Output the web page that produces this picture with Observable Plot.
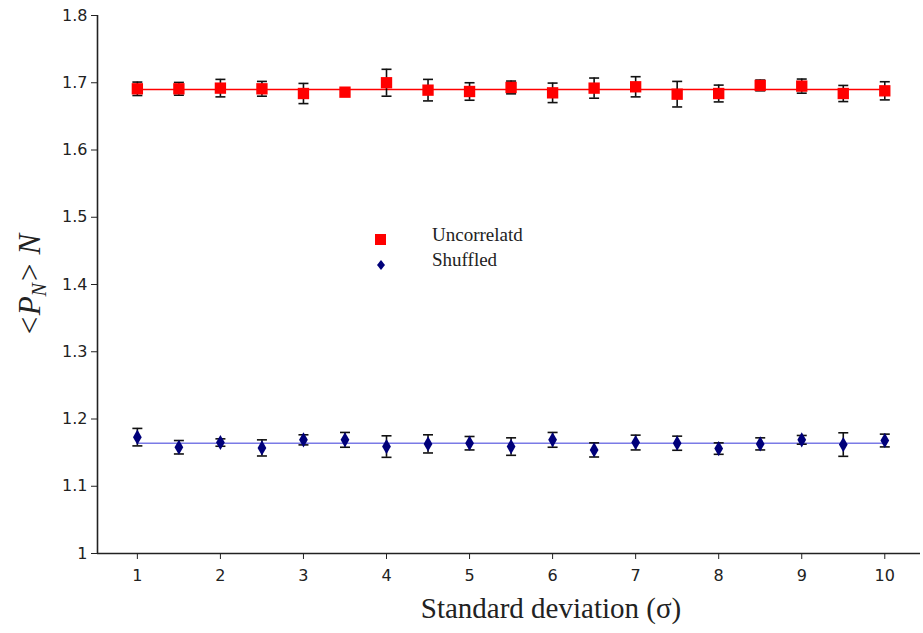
<!DOCTYPE html>
<html><head><meta charset="utf-8">
<script src="https://cdn.jsdelivr.net/npm/d3@7"></script>
<script src="https://cdn.jsdelivr.net/npm/@observablehq/plot@0.6"></script>
<style>
body{margin:0;background:#fff}
#wrap{position:relative;width:923px;height:633px;overflow:hidden}
#ylab{position:absolute;left:31px;top:285px;transform:translate(-50%,-50%) rotate(-90deg);font-family:"Liberation Serif","DejaVu Serif",serif;font-style:italic;font-size:31px;color:#222;white-space:nowrap}
#ylab sub{font-size:20px;vertical-align:-6px}
.leg{position:absolute;font-family:"Liberation Serif",serif;font-size:19px;color:#222;white-space:nowrap}
</style>
</head><body><div id="wrap"></div>
<script>
const sigma      = [1,1.5,2,2.5,3,3.5,4,4.5,5,5.5,6,6.5,7,7.5,8,8.5,9,9.5,10];
const uncorrMean = [1.691,1.691,1.692,1.691,1.684,1.686,1.700,1.689,1.687,1.693,1.685,1.692,1.694,1.683,1.684,1.696,1.695,1.684,1.688];
const uncorrErr  = [0.010,0.0095,0.013,0.011,0.015,0.002,0.020,0.016,0.013,0.0095,0.0145,0.015,0.015,0.019,0.0125,0.008,0.0105,0.012,0.0135];
const shufMean   = [1.173,1.158,1.165,1.157,1.169,1.169,1.159,1.163,1.164,1.159,1.169,1.154,1.165,1.164,1.156,1.163,1.169,1.162,1.168];
const shufErr    = [0.013,0.010,0.0055,0.012,0.0075,0.011,0.016,0.0135,0.010,0.013,0.011,0.0105,0.011,0.0105,0.0085,0.009,0.0065,0.0175,0.0095];
const uncorrFit  = [1.690];
const shufFit    = [1.164];
const xTicks     = [1,2,3,4,5,6,7,8,9,10];
const yTicks     = [1,1.1,1.2,1.3,1.4,1.5,1.6,1.7,1.8];
const xDomain    = [0.52, 10.43];
const yDomain    = [1, 1.8];
const seriesNames = ["Uncorrelatd", "Shuffled"];
const xLabel     = "Standard deviation (σ)";

const red = "#ff0000", navy = "#00007a";
const uRows = sigma.map((s,i)=>({s, m: uncorrMean[i], lo: uncorrMean[i]-uncorrErr[i], hi: uncorrMean[i]+uncorrErr[i]}));
const sRows = sigma.map((s,i)=>({s, m: shufMean[i], lo: shufMean[i]-shufErr[i], hi: shufMean[i]+shufErr[i]}));

const cap = {draw(ctx, size){ const w = Math.sqrt(size/Math.PI); ctx.moveTo(-w,0); ctx.lineTo(w,0); }};
const ebar = "#111";

function errMarks(rows){
  return [
    Plot.ruleX(rows, {x:"s", y1:"lo", y2:"hi", stroke: ebar, strokeWidth: 1.6}),
    Plot.dot(rows, {x:"s", y:"lo", symbol: cap, r: 5, stroke: ebar, strokeWidth: 1.6, fill:"none"}),
    Plot.dot(rows, {x:"s", y:"hi", symbol: cap, r: 5, stroke: ebar, strokeWidth: 1.6, fill:"none"})
  ];
}

const chart = Plot.plot({
  width: 923, height: 633,
  marginLeft: 97, marginRight: 3, marginTop: 15, marginBottom: 80,
  x: {domain: xDomain},
  y: {domain: yDomain},
  style: {fontFamily: "'DejaVu Sans', sans-serif", background: "#fff"},
  marks: [
    Plot.ruleY(uncorrFit, {x1: sigma[0], x2: sigma[sigma.length-1], stroke: red, strokeWidth: 1.6}),
    Plot.ruleY(shufFit, {x1: sigma[0], x2: sigma[sigma.length-1], stroke: "#7a7ae6", strokeWidth: 1.5}),
    ...errMarks(uRows),
    ...errMarks(sRows),
    Plot.dot(uRows, {x:"s", y:"m", symbol:"square", r: 6.4, fill: red, stroke: "none"}),
    Plot.dot(sRows, {x:"s", y:"m", symbol:"diamond", r: 4.6, fill: navy, stroke: "none"}),
    Plot.ruleX([xDomain[0]], {stroke: "#222", strokeWidth: 1.6}),
    Plot.ruleY([yDomain[0]], {stroke: "#222", strokeWidth: 1.6}),
    Plot.axisY({ticks: yTicks, tickFormat: d3.format(""), tickSize: 6, tickPadding: 4, fontSize: 16, color: "#222", label: null}),
    Plot.axisX({ticks: xTicks, tickFormat: d3.format(""), tickSize: 6, tickPadding: 10, fontSize: 16, color: "#222", label: null}),
    Plot.text([xLabel], {frameAnchor: "bottom", text: d => d, dy: 64, dx: 42, fontSize: 29, fontFamily: "'Liberation Serif', serif", fill: "#222"})
  ]
});

const wrap = document.getElementById("wrap");
wrap.appendChild(chart);
const yl = document.createElement("div");
yl.id = "ylab";
yl.innerHTML = "&lt;P<sub>N</sub>&gt; N";
wrap.appendChild(yl);

// in-chart legend (HTML overlay)
const legItems = [
  {name: seriesNames[0], top: 226, marker: `<svg width="12" height="12"><rect width="11" height="11" fill="${red}"/></svg>`},
  {name: seriesNames[1], top: 251, marker: `<svg width="12" height="12"><path d="M6 1L10 6L6 11L2 6Z" fill="${navy}"/></svg>`}
];
legItems.forEach(it => {
  const m = document.createElement("div");
  m.className = "leg"; m.style.left = "375px"; m.style.top = (it.top+3) + "px";
  m.innerHTML = it.marker; wrap.appendChild(m);
  const t = document.createElement("div");
  t.className = "leg"; t.style.left = "432px"; t.style.top = (it.top-2) + "px";
  t.textContent = it.name; wrap.appendChild(t);
});
</script>
</body></html>
